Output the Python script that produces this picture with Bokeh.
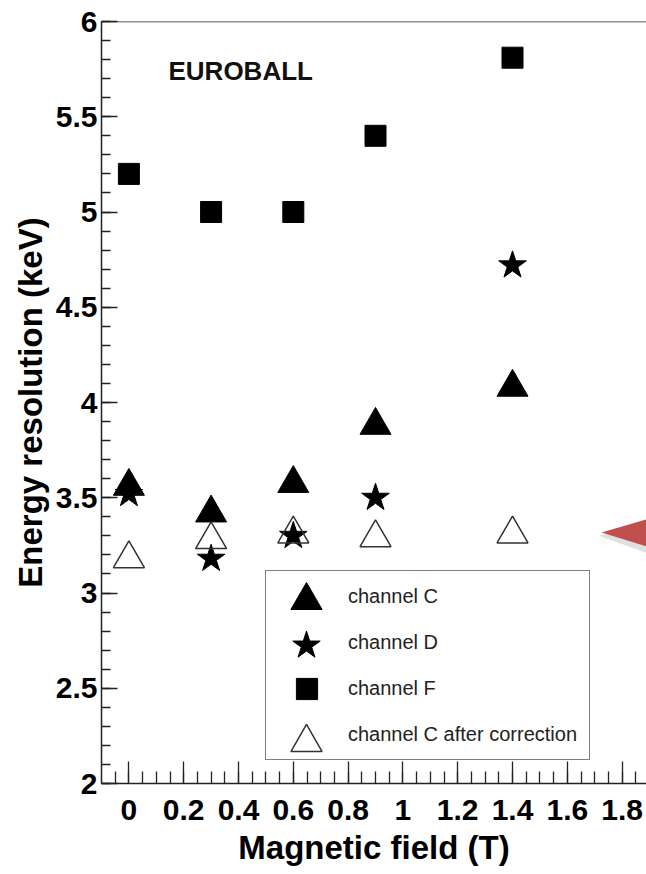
from bokeh.plotting import figure
from bokeh.models import (FixedTicker, Span, Legend, LegendItem, Label,
                          PolyAnnotation, Range1d)
from bokeh.core.properties import value
from bokeh.embed import file_html
from bokeh.resources import INLINE

# ---------------- data ----------------
FIELD_T = [0, 0.3, 0.6, 0.9, 1.4]
CHANNEL_C = [3.56, 3.42, 3.575, 3.88, 4.08]
CHANNEL_D = [3.52, 3.18, 3.30, 3.50, 4.72]
CHANNEL_F = [5.20, 5.00, 5.00, 5.40, 5.81]
CHANNEL_C_CORR = [3.18, 3.28, 3.31, 3.29, 3.31]

SERIES_LABELS = ["channel C", "channel D", "channel F", "channel C after correction"]

X_TICKS = [0, 0.2, 0.4, 0.6, 0.8, 1, 1.2, 1.4, 1.6, 1.8]
X_TICK_LABELS = ["0", "0.2", "0.4", "0.6", "0.8", "1", "1.2", "1.4", "1.6", "1.8"]
Y_TICKS = [2, 2.5, 3, 3.5, 4, 4.5, 5, 5.5, 6]
Y_TICK_LABELS = ["2", "2.5", "3", "3.5", "4", "4.5", "5", "5.5", "6"]

X_MINOR = [round(-0.05 + 0.05 * i, 2) for i in range(39)]
Y_MINOR = [round(2 + 0.1 * i, 1) for i in range(41)]

FONT = "Liberation Sans"

# layout constants (pixels of the frame within the figure)
FRAME_LEFT = 101
FRAME_BOTTOM = 783

p = figure(width=646, height=874,
           x_range=Range1d(-0.1, 1.889), y_range=Range1d(2, 6),
           output_backend="svg", toolbar_location=None,
           min_border_left=101, min_border_right=0,
           min_border_top=21, min_border_bottom=91)

p.grid.visible = False
p.outline_line_color = None
p.background_fill_color = "white"
p.border_fill_color = "white"

# axes
for ax in (p.xaxis[0], p.yaxis[0]):
    ax.axis_line_color = "#222222"
    ax.axis_line_width = 1.5
    ax.major_tick_line_color = "#222222"
    ax.minor_tick_line_color = "#222222"
    ax.major_tick_line_width = 1.3
    ax.minor_tick_line_width = 1.3
    ax.major_tick_out = 0
    ax.minor_tick_out = 0
    ax.major_label_text_font = FONT
    ax.major_label_text_font_style = "bold"
    ax.major_label_text_font_size = "30px"
    ax.major_label_text_color = "black"
    ax.axis_label_text_font = FONT
    ax.axis_label_text_font_style = "bold"
    ax.axis_label_text_color = "black"

p.xaxis.ticker = FixedTicker(ticks=X_TICKS, minor_ticks=X_MINOR)
p.xaxis.major_label_overrides = dict(zip(X_TICKS, X_TICK_LABELS))
p.xaxis.major_tick_in = 22
p.xaxis.minor_tick_in = 12
p.xaxis.major_label_standoff = 16
p.xaxis.axis_label = "Magnetic field (T)"
p.xaxis.axis_label_text_font_size = "33px"
p.xaxis.axis_label_standoff = 6

p.yaxis.ticker = FixedTicker(ticks=Y_TICKS, minor_ticks=Y_MINOR)
p.yaxis.major_label_overrides = dict(zip(Y_TICKS, Y_TICK_LABELS))
p.yaxis.major_tick_in = 16
p.yaxis.minor_tick_in = 9
p.yaxis.major_label_standoff = 4
p.yaxis.axis_label = "Energy resolution (keV)"
p.yaxis.axis_label_text_font_size = "33px"
p.yaxis.axis_label_standoff = 4

# top frame line
p.add_layout(Span(location=6, dimension="width", line_color="#222222", line_width=1.5))

# data markers
r_c = p.scatter(FIELD_T, CHANNEL_C, marker="triangle", size=31,
                fill_color="black", line_color="black")
r_d = p.scatter(FIELD_T, CHANNEL_D, marker="star", size=29,
                fill_color="black", line_color="black")
r_f = p.scatter(FIELD_T, CHANNEL_F, marker="square", size=21,
                fill_color="black", line_color="black")
r_cc = p.scatter(FIELD_T, CHANNEL_C_CORR, marker="triangle", size=31,
                 fill_color=None, line_color="#333333", line_width=1.5)

# title text inside plot
p.add_layout(Label(x=67, y=713, x_units="screen", y_units="screen", text="EUROBALL",
                   text_font=FONT, text_font_style="bold", text_font_size="26px",
                   text_color="#111111", text_baseline="alphabetic"))

# red pointer decoration on the right
p.add_layout(PolyAnnotation(xs=[1.715, 1.9, 1.9], ys=[3.30, 3.37, 3.205],
                            fill_color="#999999", fill_alpha=0.3, line_alpha=0))
p.add_layout(PolyAnnotation(xs=[1.725, 1.9, 1.9], ys=[3.318, 3.391, 3.239],
                            fill_color="#c0504d", fill_alpha=1, line_alpha=0))

# legend box with labels (keys drawn by overlays below)
dummy = p.scatter(x=[], y=[], marker="square", fill_alpha=0, line_alpha=0)
main_legend = Legend(items=[LegendItem(label=lab, renderers=[dummy]) for lab in SERIES_LABELS],
                     location=(164, 23), glyph_width=70, glyph_height=46, spacing=0,
                     padding=2, margin=0, label_standoff=10, label_width=239,
                     label_text_font=FONT, label_text_font_size="20px",
                     label_text_color="#222222", border_line_color="black",
                     border_line_width=1.5, background_fill_color="white",
                     background_fill_alpha=1)
p.add_layout(main_legend, "center")


def key_legend(renderer, g, cx, cy):
    return Legend(items=[LegendItem(label=value(" "), renderers=[renderer])],
                  location=(cx - g / 2 - FRAME_LEFT, FRAME_BOTTOM - cy - g / 2),
                  glyph_width=g, glyph_height=g, padding=0, margin=0, spacing=0,
                  label_standoff=0, label_width=0, label_text_alpha=0,
                  label_text_font_size="2px",
                  border_line_color=None, background_fill_alpha=0)


p.add_layout(key_legend(r_c, 78, 306, 600), "center")
p.add_layout(key_legend(r_d, 72, 306, 645), "center")
p.add_layout(key_legend(r_f, 53, 306.5, 688.5), "center")
p.add_layout(key_legend(r_cc, 78, 306, 742), "center")

open("out.html", "w").write(file_html(p, INLINE))
